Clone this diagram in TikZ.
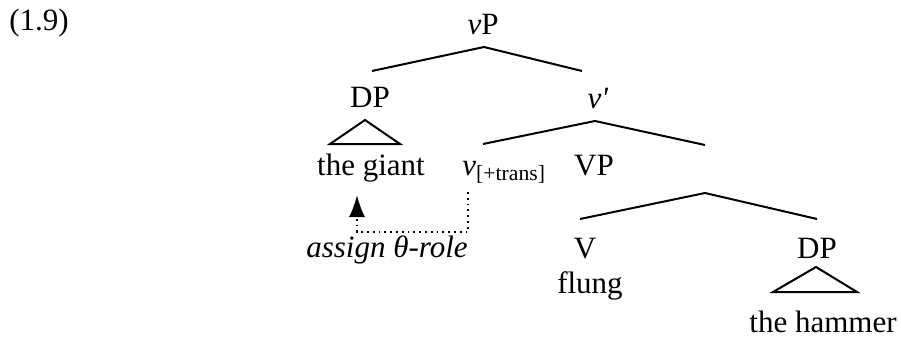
\documentclass[tikz,border=0pt]{standalone}
\usepackage{fontspec}
\setmainfont{Liberation Serif}
\usetikzlibrary{arrows.meta}

\begin{document}
\begin{tikzpicture}[x=0.5pt,y=-0.5pt]

\tikzset{word/.style = {anchor=base,inner sep=0pt,font=\fontsize{15.5}{18}\selectfont}}
\tikzset{branch/.style = {line width=1pt}}
\tikzset{edge/.style = {->,> = {Latex[length=11pt,width=8pt]},dotted,line width=0.9pt}}

\useasboundingbox (0,0) rectangle (901,338);

\node[word] (ex) at (39,30) {(1.9)};

\node[word] (vP) at (483,34) {\textit{v}P};
\node[word] (DPa) at (370,107) {DP};
\node[word] (vbar) at (598,108) {\textit{v}\textit{\textquotesingle}};
\node[word] (giant) at (371,175) {the giant};
\node[word,anchor=base west] (vtr) at (462,175) {\textit{v}\textsubscript{[+trans]}};
\node[word] (VP) at (594,175) {VP};
\node[word] (V) at (585,258) {V};
\node[word] (flung) at (590,293) {flung};
\node[word] (DPb) at (817,258) {DP};
\node[word] (hammer) at (823,332) {the hammer};
\node[word] (role) at (387,257) {\textit{assign θ-role}};

% branches
\coordinate (vPa) at (484,47);
\coordinate (vPl) at (372,71);
\coordinate (vPr) at (582,71);
\coordinate (vba) at (595,121);
\coordinate (vbl) at (483,144);
\coordinate (vbr) at (705,145);
\coordinate (VPa) at (705,193);
\coordinate (VPl) at (580,219);
\coordinate (VPr) at (817,219);

\draw[branch] (vPl) -- (vPa) -- (vPr);
\draw[branch] (vbl) -- (vba) -- (vbr);
\draw[branch] (VPl) -- (VPa) -- (VPr);

% triangles
\coordinate (ta) at (365,120);
\coordinate (tl) at (330,144);
\coordinate (tr) at (400,144);
\coordinate (ua) at (816,267);
\coordinate (ul) at (773,292);
\coordinate (ur) at (857,292);

\draw[branch] (ta) -- (tl) -- (tr) -- cycle;
\draw[branch] (ua) -- (ul) -- (ur) -- cycle;

% theta role
\coordinate (from) at (468,192);
\coordinate (to) at (357,195);
\draw[edge] (from) -- (468,232) -| (to);

\end{tikzpicture}
\end{document}
